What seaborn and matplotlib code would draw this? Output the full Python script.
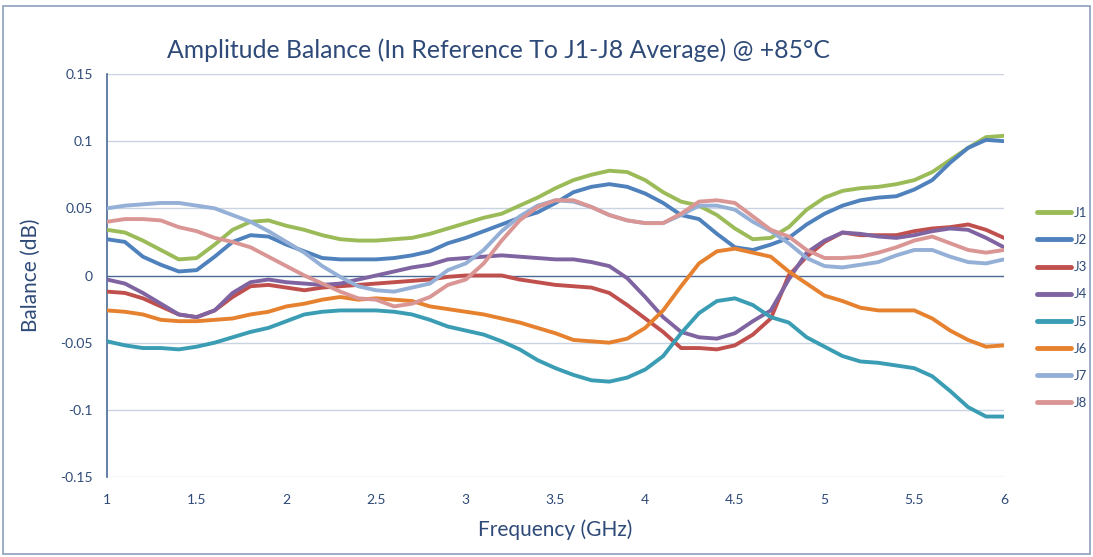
import numpy as np
import pandas as pd
import matplotlib
matplotlib.use("Agg")
import matplotlib.pyplot as plt
import seaborn as sns
from matplotlib.lines import Line2D
from matplotlib.patches import Rectangle

freq = [round(1.0 + 0.1 * i, 1) for i in range(51)]

J1 = [0.034, 0.032, 0.026, 0.019, 0.012, 0.013, 0.023, 0.034, 0.040, 0.041,
      0.037, 0.034, 0.030, 0.027, 0.026, 0.026, 0.027, 0.028, 0.031, 0.035,
      0.039, 0.043, 0.046, 0.052, 0.058, 0.065, 0.071, 0.075, 0.078, 0.077,
      0.071, 0.062, 0.055, 0.052, 0.045, 0.035, 0.027, 0.028, 0.036, 0.049,
      0.058, 0.063, 0.065, 0.066, 0.068, 0.071, 0.077, 0.086, 0.095, 0.103, 0.104]
J2 = [0.027, 0.025, 0.014, 0.008, 0.003, 0.004, 0.014, 0.025, 0.030, 0.029,
      0.023, 0.018, 0.013, 0.012, 0.012, 0.012, 0.013, 0.015, 0.018, 0.024,
      0.028, 0.033, 0.038, 0.043, 0.047, 0.054, 0.062, 0.066, 0.068, 0.066,
      0.061, 0.054, 0.045, 0.042, 0.031, 0.021, 0.019, 0.023, 0.028, 0.038,
      0.046, 0.052, 0.056, 0.058, 0.059, 0.064, 0.071, 0.084, 0.095, 0.101, 0.100]
J3 = [-0.012, -0.013, -0.017, -0.023, -0.029, -0.031, -0.026, -0.016, -0.008, -0.007,
      -0.009, -0.011, -0.009, -0.008, -0.007, -0.006, -0.005, -0.004, -0.003, -0.001,
      0.000, 0.000, 0.000, -0.003, -0.005, -0.007, -0.008, -0.009, -0.013, -0.022,
      -0.032, -0.042, -0.054, -0.054, -0.055, -0.052, -0.044, -0.032, 0.000, 0.014,
      0.025, 0.032, 0.030, 0.030, 0.030, 0.033, 0.035, 0.036, 0.038, 0.034, 0.028]
J4 = [-0.003, -0.006, -0.013, -0.021, -0.029, -0.031, -0.026, -0.013, -0.005, -0.003,
      -0.005, -0.006, -0.007, -0.006, -0.003, 0.000, 0.003, 0.006, 0.008, 0.012,
      0.013, 0.014, 0.015, 0.014, 0.013, 0.012, 0.012, 0.010, 0.007, -0.002,
      -0.016, -0.031, -0.042, -0.046, -0.047, -0.043, -0.034, -0.026, -0.003, 0.017,
      0.026, 0.032, 0.031, 0.029, 0.028, 0.030, 0.033, 0.035, 0.034, 0.028, 0.021]
J5 = [-0.049, -0.052, -0.054, -0.054, -0.055, -0.053, -0.050, -0.046, -0.042, -0.039,
      -0.034, -0.029, -0.027, -0.026, -0.026, -0.026, -0.027, -0.029, -0.033, -0.038,
      -0.041, -0.044, -0.049, -0.055, -0.063, -0.069, -0.074, -0.078, -0.079, -0.076,
      -0.070, -0.060, -0.043, -0.028, -0.019, -0.017, -0.022, -0.031, -0.035, -0.046,
      -0.053, -0.060, -0.064, -0.065, -0.067, -0.069, -0.075, -0.086, -0.098, -0.105, -0.105]
J6 = [-0.026, -0.027, -0.029, -0.033, -0.034, -0.034, -0.033, -0.032, -0.029, -0.027,
      -0.023, -0.021, -0.018, -0.016, -0.018, -0.017, -0.018, -0.019, -0.023, -0.025,
      -0.027, -0.029, -0.032, -0.035, -0.039, -0.043, -0.048, -0.049, -0.050, -0.047,
      -0.039, -0.026, -0.008, 0.009, 0.018, 0.020, 0.017, 0.014, 0.003, -0.006,
      -0.015, -0.019, -0.024, -0.026, -0.026, -0.026, -0.032, -0.041, -0.048, -0.053, -0.052]
J7 = [0.050, 0.052, 0.053, 0.054, 0.054, 0.052, 0.050, 0.045, 0.040, 0.033,
      0.025, 0.017, 0.007, -0.001, -0.008, -0.011, -0.012, -0.009, -0.006, 0.004,
      0.009, 0.019, 0.033, 0.044, 0.052, 0.056, 0.055, 0.051, 0.045, 0.041,
      0.039, 0.039, 0.045, 0.052, 0.052, 0.049, 0.040, 0.033, 0.024, 0.013,
      0.007, 0.006, 0.008, 0.010, 0.015, 0.019, 0.019, 0.014, 0.010, 0.009, 0.012]
J8 = [0.040, 0.042, 0.042, 0.041, 0.036, 0.033, 0.028, 0.025, 0.021, 0.014,
      0.007, 0.000, -0.006, -0.012, -0.017, -0.018, -0.023, -0.021, -0.016, -0.007,
      -0.003, 0.009, 0.026, 0.041, 0.051, 0.056, 0.056, 0.051, 0.045, 0.041,
      0.039, 0.039, 0.046, 0.055, 0.056, 0.054, 0.044, 0.034, 0.029, 0.019,
      0.013, 0.013, 0.014, 0.017, 0.021, 0.026, 0.029, 0.024, 0.019, 0.017, 0.019]

series_names = ["J1", "J2", "J3", "J4", "J5", "J6", "J7", "J8"]
series_vals = [J1, J2, J3, J4, J5, J6, J7, J8]
colors = ["#9BBB59", "#4F81BD", "#C0504D", "#8064A2",
          "#3A9DB4", "#E6822F", "#95B0D6", "#D99694"]

xticks = [1, 1.5, 2, 2.5, 3, 3.5, 4, 4.5, 5, 5.5, 6]
xtick_labels = ["1", "1.5", "2", "2.5", "3", "3.5", "4", "4.5", "5", "5.5", "6"]
yticks = [-0.15, -0.1, -0.05, 0, 0.05, 0.1, 0.15]
ytick_labels = ["-0.15", "-0.1", "-0.05", "0", "0.05", "0.1", "0.15"]

title = "Amplitude Balance (In Reference To J1-J8 Average) @ +85°C"
xlabel = "Frequency (GHz)"
ylabel = "Balance (dB)"

df = pd.DataFrame({
    "Frequency": np.tile(freq, len(series_names)),
    "Balance": np.concatenate(series_vals),
    "Series": np.repeat(series_names, len(freq)),
})

sns.set_theme(style="white")
plt.rcParams["font.family"] = ["Lato", "DejaVu Sans"]

text_color = "#2E4A78"
fig = plt.figure(figsize=(10.93, 5.57), dpi=100)
ax = fig.add_axes([107 / 1093, 1 - 477 / 557, (1004 - 107) / 1093, (477 - 74) / 557])

for yv in yticks:
    if yv != 0:
        ax.axhline(yv, color="#C9D3E1", lw=1.0, zorder=0)
ax.axhline(0, color="#4A6A95", lw=1.0, zorder=1)

sns.lineplot(data=df, x="Frequency", y="Balance", hue="Series",
             palette=dict(zip(series_names, colors)), lw=2.8,
             ax=ax, legend=False, zorder=3)

ax.set_xlim(1, 6)
ax.set_ylim(-0.15, 0.15)
ax.set_xticks(xticks)
ax.set_xticklabels(xtick_labels)
ax.set_yticks(yticks)
ax.set_yticklabels(ytick_labels)
ax.tick_params(axis="both", length=0, labelsize=10, colors=text_color, pad=10)
ax.tick_params(axis="x", pad=12)
for s in ["top", "right", "bottom"]:
    ax.spines[s].set_visible(False)
ax.spines["left"].set_color("#4A6A95")
ax.spines["left"].set_linewidth(1.2)

ax.set_xlabel(xlabel, fontsize=15, color=text_color, labelpad=10)
ax.set_ylabel(ylabel, fontsize=15, color=text_color, labelpad=14)
fig.text(498 / 1093, 1 - 50 / 557, title, fontsize=17.8, color=text_color,
         ha="center", va="center")

handles = [Line2D([0], [0], color=c, lw=3.5, solid_capstyle="round") for c in colors]
fig.legend(handles, series_names, loc="center left",
           bbox_to_anchor=(1025 / 1093, 1 - 308 / 557), frameon=False,
           fontsize=9.5, labelcolor=text_color, handlelength=2.6,
           handletextpad=0.2, labelspacing=1.15)

fig.patches.append(Rectangle((3 / 1093, 3 / 557), 1 - 6 / 1093, 1 - 9 / 557,
                             transform=fig.transFigure, fill=False,
                             edgecolor="#8CA0BC", lw=1.2))

fig.savefig("out.png", dpi=100, facecolor="white")
